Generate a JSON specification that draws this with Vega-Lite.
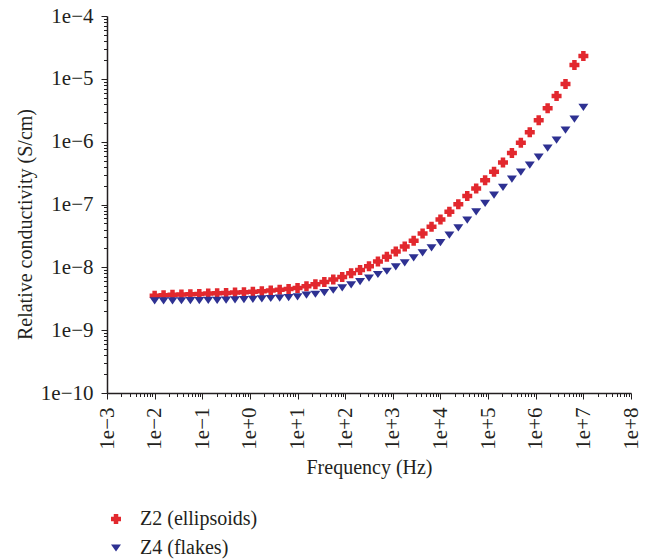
{
  "$schema": "https://vega.github.io/schema/vega-lite/v6.json",
  "width": 524,
  "height": 377,
  "autosize": "none",
  "padding": {"left": 107, "top": 16, "right": 20, "bottom": 167},
  "background": "white",
  "config": {
    "view": {"stroke": null},
    "font": "Liberation Serif",
    "axis": {
      "domainColor": "#231f20",
      "domainWidth": 1.5,
      "tickColor": "#231f20",
      "tickWidth": 1,
      "labelColor": "#231f20",
      "titleColor": "#231f20",
      "labelFont": "Liberation Serif",
      "titleFont": "Liberation Serif",
      "labelFontSize": 21,
      "titleFontSize": 20,
      "titleFontWeight": "normal",
      "grid": false,
      "labelOverlap": false,
      "labelFlush": false,
      "labelBound": false
    },
    "legend": {"labelFont": "Liberation Serif", "labelFontSize": 20, "labelColor": "#231f20"}
  },
  "data": {
    "values": [
      {"f": 0.01, "series": "Z2 (ellipsoids)", "s": 3.53e-9},
      {"f": 0.015399, "series": "Z2 (ellipsoids)", "s": 3.60e-9},
      {"f": 0.023714, "series": "Z2 (ellipsoids)", "s": 3.66e-9},
      {"f": 0.036517, "series": "Z2 (ellipsoids)", "s": 3.71e-9},
      {"f": 0.056234, "series": "Z2 (ellipsoids)", "s": 3.73e-9},
      {"f": 0.086596, "series": "Z2 (ellipsoids)", "s": 3.77e-9},
      {"f": 0.13335, "series": "Z2 (ellipsoids)", "s": 3.83e-9},
      {"f": 0.20535, "series": "Z2 (ellipsoids)", "s": 3.87e-9},
      {"f": 0.31623, "series": "Z2 (ellipsoids)", "s": 3.92e-9},
      {"f": 0.48697, "series": "Z2 (ellipsoids)", "s": 3.97e-9},
      {"f": 0.74989, "series": "Z2 (ellipsoids)", "s": 4.02e-9},
      {"f": 1.1548, "series": "Z2 (ellipsoids)", "s": 4.09e-9},
      {"f": 1.7783, "series": "Z2 (ellipsoids)", "s": 4.17e-9},
      {"f": 2.7384, "series": "Z2 (ellipsoids)", "s": 4.28e-9},
      {"f": 4.217, "series": "Z2 (ellipsoids)", "s": 4.40e-9},
      {"f": 6.4938, "series": "Z2 (ellipsoids)", "s": 4.53e-9},
      {"f": 10, "series": "Z2 (ellipsoids)", "s": 4.70e-9},
      {"f": 15.399, "series": "Z2 (ellipsoids)", "s": 5.00e-9},
      {"f": 23.714, "series": "Z2 (ellipsoids)", "s": 5.38e-9},
      {"f": 36.517, "series": "Z2 (ellipsoids)", "s": 5.86e-9},
      {"f": 56.234, "series": "Z2 (ellipsoids)", "s": 6.40e-9},
      {"f": 86.596, "series": "Z2 (ellipsoids)", "s": 7.03e-9},
      {"f": 133.35, "series": "Z2 (ellipsoids)", "s": 8.05e-9},
      {"f": 205.35, "series": "Z2 (ellipsoids)", "s": 9.10e-9},
      {"f": 316.23, "series": "Z2 (ellipsoids)", "s": 1.04e-8},
      {"f": 486.97, "series": "Z2 (ellipsoids)", "s": 1.24e-8},
      {"f": 749.89, "series": "Z2 (ellipsoids)", "s": 1.47e-8},
      {"f": 1154.8, "series": "Z2 (ellipsoids)", "s": 1.79e-8},
      {"f": 1778.3, "series": "Z2 (ellipsoids)", "s": 2.15e-8},
      {"f": 2738.4, "series": "Z2 (ellipsoids)", "s": 2.65e-8},
      {"f": 4217.0, "series": "Z2 (ellipsoids)", "s": 3.46e-8},
      {"f": 6493.8, "series": "Z2 (ellipsoids)", "s": 4.41e-8},
      {"f": 10000, "series": "Z2 (ellipsoids)", "s": 5.78e-8},
      {"f": 15399, "series": "Z2 (ellipsoids)", "s": 7.64e-8},
      {"f": 23714, "series": "Z2 (ellipsoids)", "s": 1.01e-7},
      {"f": 36517, "series": "Z2 (ellipsoids)", "s": 1.36e-7},
      {"f": 56234, "series": "Z2 (ellipsoids)", "s": 1.80e-7},
      {"f": 86596, "series": "Z2 (ellipsoids)", "s": 2.44e-7},
      {"f": 133352, "series": "Z2 (ellipsoids)", "s": 3.31e-7},
      {"f": 205353, "series": "Z2 (ellipsoids)", "s": 4.64e-7},
      {"f": 316228, "series": "Z2 (ellipsoids)", "s": 6.58e-7},
      {"f": 486968, "series": "Z2 (ellipsoids)", "s": 9.59e-7},
      {"f": 749894, "series": "Z2 (ellipsoids)", "s": 1.41e-6},
      {"f": 1154782, "series": "Z2 (ellipsoids)", "s": 2.20e-6},
      {"f": 1778279, "series": "Z2 (ellipsoids)", "s": 3.39e-6},
      {"f": 2738420, "series": "Z2 (ellipsoids)", "s": 5.32e-6},
      {"f": 4216965, "series": "Z2 (ellipsoids)", "s": 8.26e-6},
      {"f": 6493816, "series": "Z2 (ellipsoids)", "s": 1.66e-5},
      {"f": 10000000, "series": "Z2 (ellipsoids)", "s": 2.31e-5},
      {"f": 0.01, "series": "Z4 (flakes)", "s": 2.92e-9},
      {"f": 0.015399, "series": "Z4 (flakes)", "s": 2.92e-9},
      {"f": 0.023714, "series": "Z4 (flakes)", "s": 2.93e-9},
      {"f": 0.036517, "series": "Z4 (flakes)", "s": 2.94e-9},
      {"f": 0.056234, "series": "Z4 (flakes)", "s": 2.95e-9},
      {"f": 0.086596, "series": "Z4 (flakes)", "s": 2.96e-9},
      {"f": 0.13335, "series": "Z4 (flakes)", "s": 2.97e-9},
      {"f": 0.20535, "series": "Z4 (flakes)", "s": 2.99e-9},
      {"f": 0.31623, "series": "Z4 (flakes)", "s": 3.01e-9},
      {"f": 0.48697, "series": "Z4 (flakes)", "s": 3.04e-9},
      {"f": 0.74989, "series": "Z4 (flakes)", "s": 3.07e-9},
      {"f": 1.1548, "series": "Z4 (flakes)", "s": 3.10e-9},
      {"f": 1.7783, "series": "Z4 (flakes)", "s": 3.14e-9},
      {"f": 2.7384, "series": "Z4 (flakes)", "s": 3.19e-9},
      {"f": 4.217, "series": "Z4 (flakes)", "s": 3.24e-9},
      {"f": 6.4938, "series": "Z4 (flakes)", "s": 3.30e-9},
      {"f": 10, "series": "Z4 (flakes)", "s": 3.38e-9},
      {"f": 15.399, "series": "Z4 (flakes)", "s": 3.60e-9},
      {"f": 23.714, "series": "Z4 (flakes)", "s": 3.73e-9},
      {"f": 36.517, "series": "Z4 (flakes)", "s": 3.97e-9},
      {"f": 56.234, "series": "Z4 (flakes)", "s": 4.32e-9},
      {"f": 86.596, "series": "Z4 (flakes)", "s": 4.70e-9},
      {"f": 133.35, "series": "Z4 (flakes)", "s": 5.25e-9},
      {"f": 205.35, "series": "Z4 (flakes)", "s": 5.94e-9},
      {"f": 316.23, "series": "Z4 (flakes)", "s": 6.71e-9},
      {"f": 486.97, "series": "Z4 (flakes)", "s": 7.69e-9},
      {"f": 749.89, "series": "Z4 (flakes)", "s": 8.67e-9},
      {"f": 1154.8, "series": "Z4 (flakes)", "s": 1.02e-8},
      {"f": 1778.3, "series": "Z4 (flakes)", "s": 1.18e-8},
      {"f": 2738.4, "series": "Z4 (flakes)", "s": 1.41e-8},
      {"f": 4217.0, "series": "Z4 (flakes)", "s": 1.70e-8},
      {"f": 6493.8, "series": "Z4 (flakes)", "s": 2.04e-8},
      {"f": 10000, "series": "Z4 (flakes)", "s": 2.47e-8},
      {"f": 15399, "series": "Z4 (flakes)", "s": 3.25e-8},
      {"f": 23714, "series": "Z4 (flakes)", "s": 4.25e-8},
      {"f": 36517, "series": "Z4 (flakes)", "s": 5.64e-8},
      {"f": 56234, "series": "Z4 (flakes)", "s": 7.64e-8},
      {"f": 86596, "series": "Z4 (flakes)", "s": 1.04e-7},
      {"f": 133352, "series": "Z4 (flakes)", "s": 1.41e-7},
      {"f": 205353, "series": "Z4 (flakes)", "s": 1.87e-7},
      {"f": 316228, "series": "Z4 (flakes)", "s": 2.54e-7},
      {"f": 486968, "series": "Z4 (flakes)", "s": 3.27e-7},
      {"f": 749894, "series": "Z4 (flakes)", "s": 4.24e-7},
      {"f": 1154782, "series": "Z4 (flakes)", "s": 5.68e-7},
      {"f": 1778279, "series": "Z4 (flakes)", "s": 7.89e-7},
      {"f": 2738420, "series": "Z4 (flakes)", "s": 1.06e-6},
      {"f": 4216965, "series": "Z4 (flakes)", "s": 1.53e-6},
      {"f": 6493816, "series": "Z4 (flakes)", "s": 2.29e-6},
      {"f": 10000000, "series": "Z4 (flakes)", "s": 3.52e-6}
    ]
  },
  "mark": {"type": "point", "filled": true, "opacity": 1, "size": 100},
  "encoding": {
    "x": {
      "field": "f",
      "type": "quantitative",
      "scale": {"type": "log", "domain": [0.001, 100000000], "nice": false},
      "axis": {
        "title": "Frequency (Hz)",
        "titleX": 262,
        "titleY": 74,
        "titleBaseline": "middle",
        "titleAnchor": null,
        "labelAngle": 270,
        "labelPadding": 8,
        "values": [0.001,0.002,0.003,0.004,0.005,0.006,0.007,0.008,0.009,0.01,0.02,0.03,0.04,0.05,0.06,0.07,0.08,0.09,0.1,0.2,0.3,0.4,0.5,0.6,0.7,0.8,0.9,1,2,3,4,5,6,7,8,9,10,20,30,40,50,60,70,80,90,100,200,300,400,500,600,700,800,900,1000,2000,3000,4000,5000,6000,7000,8000,9000,10000,20000,30000,40000,50000,60000,70000,80000,90000,100000,200000,300000,400000,500000,600000,700000,800000,900000,1000000,2000000,3000000,4000000,5000000,6000000,7000000,8000000,9000000,10000000,20000000,30000000,40000000,50000000,60000000,70000000,80000000,90000000,100000000],
        "tickSize": {"condition": {"test": "abs(log(datum.value)/LN10 - round(log(datum.value)/LN10)) < 0.001", "value": 6}, "value": 3.5},
        "labelExpr": "abs(log(datum.value)/LN10 - round(log(datum.value)/LN10)) < 0.001 ? (round(log(datum.value)/LN10) >= 0 ? '1e+' + round(log(datum.value)/LN10) : '1e−' + abs(round(log(datum.value)/LN10))) : ''"
      }
    },
    "y": {
      "field": "s",
      "type": "quantitative",
      "scale": {"type": "log", "domain": [1e-10, 0.0001], "nice": false},
      "axis": {
        "title": "Relative conductivity (S/cm)",
        "titleX": -82,
        "titleY": 208,
        "titleBaseline": "middle",
        "titleAnchor": null,
        "labelPadding": 8,
        "values": [1e-10,2e-10,3e-10,4e-10,5e-10,6e-10,7e-10,8e-10,9e-10,1e-9,2e-9,3e-9,4e-9,5e-9,6e-9,7e-9,8e-9,9e-9,1e-8,2e-8,3e-8,4e-8,5e-8,6e-8,7e-8,8e-8,9e-8,1e-7,2e-7,3e-7,4e-7,5e-7,6e-7,7e-7,8e-7,9e-7,1e-6,2e-6,3e-6,4e-6,5e-6,6e-6,7e-6,8e-6,9e-6,1e-5,2e-5,3e-5,4e-5,5e-5,6e-5,7e-5,8e-5,9e-5,1e-4],
        "tickSize": {"condition": {"test": "abs(log(datum.value)/LN10 - round(log(datum.value)/LN10)) < 0.001", "value": 6}, "value": 3.5},
        "labelExpr": "abs(log(datum.value)/LN10 - round(log(datum.value)/LN10)) < 0.001 ? (round(log(datum.value)/LN10) >= 0 ? '1e+' + round(log(datum.value)/LN10) : '1e−' + abs(round(log(datum.value)/LN10))) : ''"
      }
    },
    "color": {
      "field": "series",
      "type": "nominal",
      "scale": {"domain": ["Z2 (ellipsoids)", "Z4 (flakes)"], "range": ["#e2282e", "#2e3192"]},
      "legend": {
        "title": null,
        "orient": "none",
        "legendX": -1,
        "legendY": 493,
        "labelOffset": 14,
        "rowPadding": 9,
        "symbolSize": 100,
        "symbolStrokeWidth": 0
      }
    },
    "shape": {
      "field": "series",
      "type": "nominal",
      "scale": {"domain": ["Z2 (ellipsoids)", "Z4 (flakes)"], "range": ["M-0.45,-1L0.45,-1L0.45,-0.45L1,-0.45L1,0.45L0.45,0.45L0.45,1L-0.45,1L-0.45,0.45L-1,0.45L-1,-0.45L-0.45,-0.45Z", "M-1,-0.72L1,-0.72L0,0.72Z"]}
    }
  }
}
